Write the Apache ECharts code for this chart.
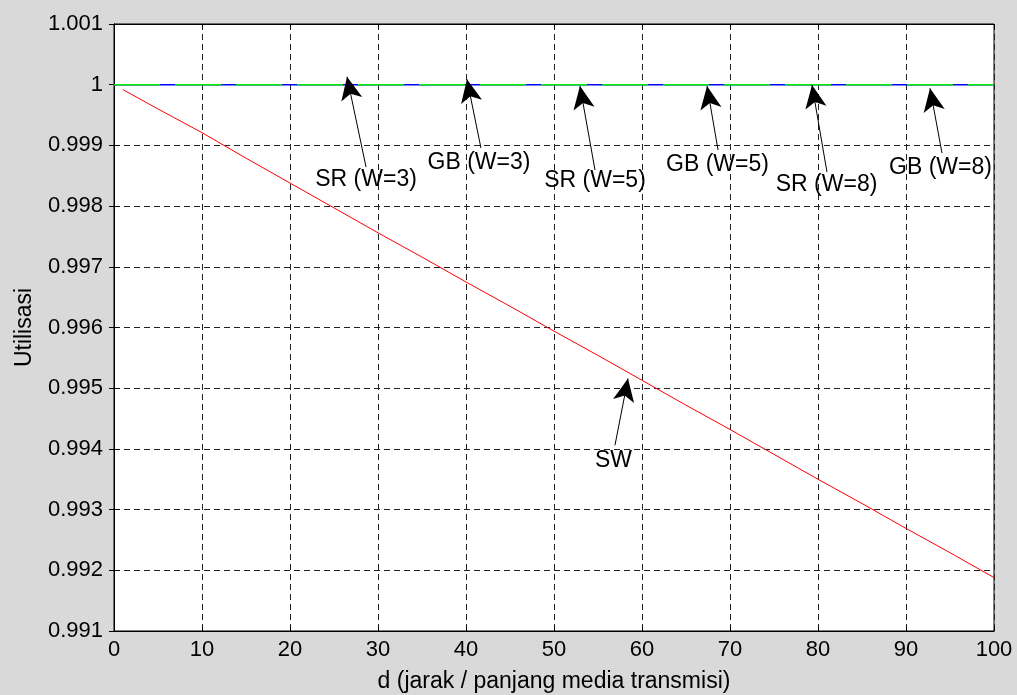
<!DOCTYPE html>
<html>
<head>
<meta charset="utf-8">
<script src="https://cdn.jsdelivr.net/npm/echarts@6/dist/echarts.min.js"></script>
<style>
  html, body { margin: 0; padding: 0; background: #d9d9d9; }
  #chart { width: 1017px; height: 695px; }
</style>
</head>
<body>
<div id="chart"></div>
<script>
// ---- data ----
const dSW = [1, 5, 10, 15, 20, 25, 30, 35, 40, 45, 50, 55, 60, 65, 70, 75, 80, 85, 90, 95, 100];
const sw  = [0.99992, 0.99960, 0.99921, 0.99879, 0.99838, 0.99797, 0.99756, 0.99716, 0.99675, 0.99635,
             0.99594, 0.99554, 0.99513, 0.99472, 0.99432, 0.99391, 0.99350, 0.99310, 0.99269, 0.99229, 0.99188];
const dFlat = [0, 100];
const sr = [1, 1];
const gb = [1, 1];

const annLabels = ['SR (W=3)', 'GB (W=3)', 'SR (W=5)', 'GB (W=5)', 'SR (W=8)', 'GB (W=8)', 'SW'];
const annTextX = [28.64, 41.48, 54.66, 68.58, 80.97, 93.92, 56.76];
const annTextY = [0.998429, 0.998717, 0.998412, 0.998676, 0.998346, 0.998635, 0.993805];
const annTailX = [28.64, 41.70, 54.66, 68.64, 81.02, 94.09, 56.93];
const annTailY = [0.998643, 0.998956, 0.998594, 0.998923, 0.998561, 0.998874, 0.994061];
const annHeadX = [26.48, 40.11, 52.95, 67.39, 79.32, 92.73, 58.41];
const annHeadY = [1.000131, 1.000088, 0.999978, 0.999978, 0.999995, 0.999940, 0.995160];

const xMin = 0, xMax = 100, xStep = 10;
const yMin = 0.991, yMax = 1.001, yStep = 0.001;

// ---- chart ----
const FONT = "'Liberation Sans', Arial, Helvetica, sans-serif";
const chart = echarts.init(document.getElementById('chart'), null, { renderer: 'canvas' });

const gridDash = { show: true, lineStyle: { color: '#222', width: 1, type: [6, 4] } };
const axisBlack = { show: true, lineStyle: { color: '#000', width: 1 } };
const tickIn = { show: true, inside: true, length: 5, lineStyle: { color: '#000', width: 1 } };

const arrowData = annLabels.map((_, i) => [
  { coord: [annTailX[i], annTailY[i]] },
  { coord: [annHeadX[i], annHeadY[i]] }
]);

chart.setOption({
  backgroundColor: '#d9d9d9',
  animation: false,
  textStyle: { fontFamily: FONT },
  grid: {
    left: 114, right: 23, top: 24, bottom: 64,
    containLabel: false, outerBoundsMode: 'none',
    show: true, backgroundColor: '#ffffff', borderColor: '#000', borderWidth: 1
  },
  xAxis: [
    {
      type: 'value', min: xMin, max: xMax, interval: xStep,
      axisLine: axisBlack, axisTick: tickIn, splitLine: gridDash,
      axisLabel: { color: '#000', fontSize: 22, fontFamily: FONT, margin: 8 },
      name: 'd (jarak / panjang media transmisi)', nameLocation: 'middle', nameGap: 39,
      nameTextStyle: { color: '#000', fontSize: 23, fontFamily: FONT }
    },
    {
      type: 'value', position: 'top', min: xMin, max: xMax, interval: xStep,
      axisLine: axisBlack, axisTick: tickIn, splitLine: { show: false },
      axisLabel: { show: false }
    }
  ],
  yAxis: [
    {
      type: 'value', min: yMin, max: yMax, interval: yStep,
      axisLine: axisBlack, axisTick: tickIn, splitLine: gridDash,
      axisLabel: {
        color: '#000', fontSize: 22, fontFamily: FONT, margin: 11,
        formatter: v => (Math.abs(v - 1) < 1e-9 ? '1' : v.toFixed(3))
      },
      name: 'Utilisasi', nameLocation: 'middle', nameGap: 78, nameRotate: 90,
      nameTextStyle: { color: '#000', fontSize: 23, fontFamily: FONT }
    },
    {
      type: 'value', position: 'right', min: yMin, max: yMax, interval: yStep,
      axisLine: axisBlack, axisTick: tickIn, splitLine: { show: false },
      axisLabel: { show: false }
    }
  ],
  series: [
    {
      name: 'SW', type: 'line', showSymbol: false, symbol: 'none',
      data: dSW.map((d, i) => [d, sw[i]]),
      lineStyle: { color: '#ff0000', width: 1 }
    },
    {
      name: 'SR', type: 'line', showSymbol: false, symbol: 'none',
      data: dFlat.map((d, i) => [d, sr[i]]),
      lineStyle: { color: '#0000ff', width: 1.5 }
    },
    {
      name: 'GB', type: 'line', showSymbol: false, symbol: 'none',
      data: dFlat.map((d, i) => [d, gb[i]]),
      lineStyle: { color: '#00ee00', width: 1.5, type: [46, 15], dashOffset: 0 }
    },
    {
      name: 'arrows', type: 'line', data: [], silent: true,
      markLine: {
        silent: true, animation: false,
        symbol: ['none', 'arrow'], symbolSize: [16, 23],
        label: { show: false },
        lineStyle: { color: '#000', width: 1, type: 'solid' },
        emphasis: { disabled: true },
        data: arrowData
      }
    },
    {
      name: 'labels', type: 'scatter', symbolSize: 0, silent: true,
      itemStyle: { color: '#000' },
      data: annLabels.map((t, i) => ({ name: t, value: [annTextX[i], annTextY[i]] })),
      label: {
        show: true, position: 'inside', formatter: p => p.name,
        color: '#000', fontSize: 23, fontFamily: FONT, opacity: 1,
        textBorderWidth: 0, textBorderColor: 'transparent'
      }
    }
  ]
});
</script>
</body>
</html>
